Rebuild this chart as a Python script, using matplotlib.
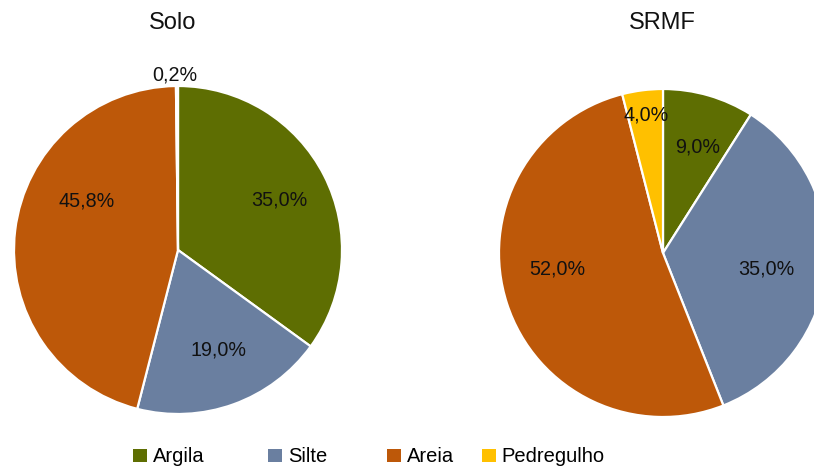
import numpy as np
import matplotlib
matplotlib.use("Agg")
import matplotlib.pyplot as plt
from matplotlib.patches import Patch

plt.rcParams['font.family'] = ['Liberation Sans', 'DejaVu Sans']

# data
categories = ["Argila", "Silte", "Areia", "Pedregulho"]
solo = [35.0, 19.0, 45.8, 0.2]
srmf = [9.0, 35.0, 52.0, 4.0]
titles = ["Solo", "SRMF"]
colors = ["#5e6e02", "#6a7fa0", "#bd5809", "#ffc000"]

# layout (pixels in a 814x468 canvas)
W, H = 814, 468
pie_centers = [(178, 250), (663, 253)]
pie_radius = 164
title_pos = [(173, 23), (662, 23)]
# per-slice label placement: (angle in degrees, distance as fraction of radius)
label_place = [
    [(26, 0.69), (-68, 0.66), (152, 0.63), (91.0, 1.07)],
    [(72, 0.68), (-8.7, 0.64), (188.6, 0.65), (97, 0.85)],
]
legend_x = [133, 268, 387, 482]
legend_y = 457


def fmt(v):
    return f"{v:.1f}%".replace(".", ",")


fig = plt.figure(figsize=(W / 100, H / 100), dpi=100)

for k, vals in enumerate([solo, srmf]):
    cx, cy = pie_centers[k]
    r = pie_radius
    ax = fig.add_axes([(cx - r) / W, (H - cy - r) / H, 2 * r / W, 2 * r / H])
    ax.pie(vals, colors=colors, startangle=90, counterclock=False, radius=1,
           wedgeprops=dict(edgecolor="white", linewidth=1.6))
    ax.set_xlim(-1, 1)
    ax.set_ylim(-1, 1)
    ax.set_aspect("equal")
    ax.axis("off")
    for v, (ang, dist) in zip(vals, label_place[k]):
        a = np.deg2rad(ang)
        ax.text(dist * np.cos(a), dist * np.sin(a), fmt(v), ha="center", va="center",
                fontsize=14.2, color="#111111")
    tx, ty = title_pos[k]
    fig.text(tx / W, 1 - ty / H, titles[k], ha="center", va="center",
             fontsize=17, color="#111111")

for name, col, x in zip(categories, colors, legend_x):
    fig.legend(handles=[Patch(facecolor=col, edgecolor="none")], labels=[name],
               loc="center left", bbox_to_anchor=(x / W, 1 - legend_y / H),
               frameon=False, fontsize=14.5, handlelength=0.68, handleheight=0.68,
               handletextpad=0.3, borderpad=0, borderaxespad=0)

fig.savefig("out.png", dpi=100)
